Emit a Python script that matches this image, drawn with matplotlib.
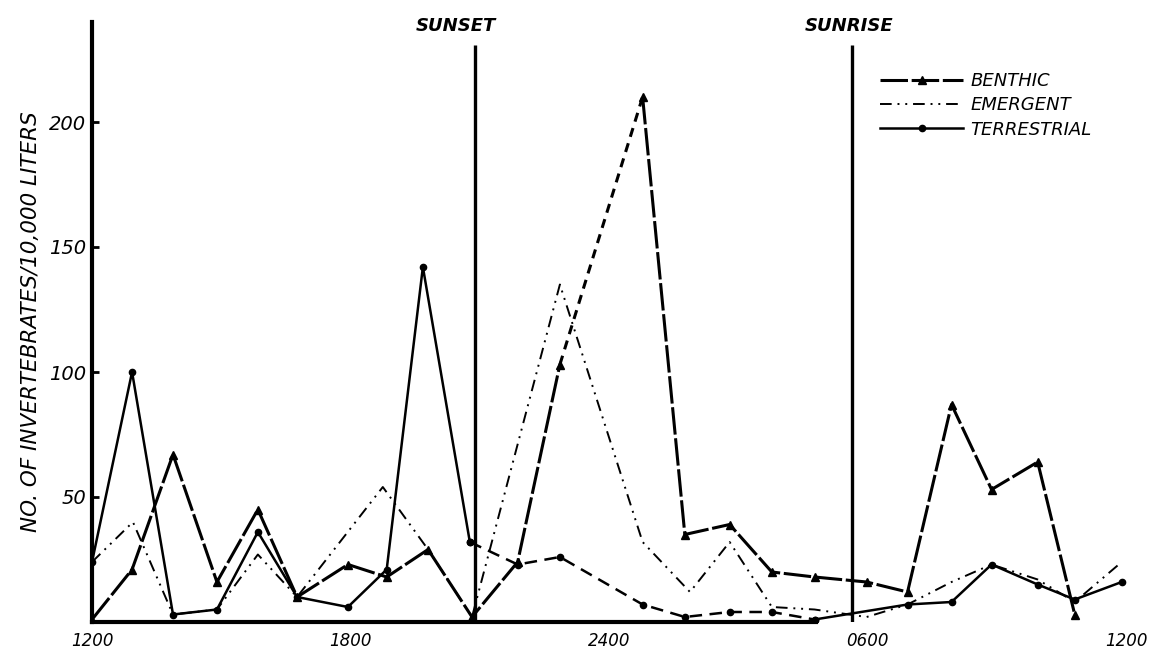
import matplotlib.pyplot as plt
from matplotlib.lines import Line2D

# hours after 1200 (noon) for each sample, and counts per 10,000 liters
benthic_hours = [0, 0.93, 1.88, 2.9, 3.85, 4.76, 5.94, 6.84, 7.8, 8.82, 9.88, 10.86,
                 12.78, 13.76, 14.8, 15.78, 16.77, 17.98, 18.93, 19.95, 20.88, 21.95, 22.81]
benthic = [1, 21, 67, 16, 45, 10, 23, 18, 29, 2, 24, 103,
           210, 35, 39, 20, 18, 16, 12, 87, 53, 64, 3]

emergent_hours = [0, 0.95, 1.88, 2.9, 3.85, 4.76, 6.75, 7.8, 8.82, 10.86, 12.78,
                  13.88, 14.8, 15.78, 16.77, 17.98, 18.93, 19.95, 20.88, 21.95, 22.81, 23.9]
emergent = [24, 40, 3, 5, 27, 10, 54, 29, 2, 135, 32,
            12, 32, 6, 5, 2, 7, 16, 23, 17, 8, 24]

terrestrial_hours = [0, 0.93, 1.88, 2.9, 3.85, 4.76, 5.94, 6.84, 7.68, 8.77, 9.88, 10.86,
                     12.78, 13.76, 14.8, 15.78, 16.77, 18.93, 19.95, 20.88, 21.95, 22.81, 23.9]
terrestrial = [24, 100, 3, 5, 36, 10, 6, 21, 142, 32, 23, 26,
               7, 2, 4, 4, 1, 7, 8, 23, 15, 9, 16]

sun_labels = ["SUNSET", "SUNRISE"]
sun_hours = [8.89, 17.63]
sun_label_hours = [8.45, 17.56]

x_ticks = [0, 6, 12, 18, 24]
x_labels = ["1200", "1800", "2400", "0600", "1200"]
y_ticks = [50, 100, 150, 200]

plt.rcParams["font.family"] = ["DejaVu Sans"]

fig = plt.figure(figsize=(11.61, 6.52), dpi=100)
ax = fig.add_axes([92 / 1161, 30 / 652, 1034 / 1161, 600 / 652])

# benthic: heavy line with triangles, dashed rise to the midnight peak
ax.plot(benthic_hours[:12], benthic[:12], color="black", lw=2.2, dashes=(9, 1.2),
        marker="^", ms=5.5)
ax.plot(benthic_hours[11:13], benthic[11:13], color="black", lw=2.2, dashes=(3, 2.2))
ax.plot(benthic_hours[12:], benthic[12:], color="black", lw=2.2, dashes=(9, 1.2),
        marker="^", ms=5.5)

ax.plot(emergent_hours, emergent, color="black", lw=1.4,
        dashes=(6, 3, 1, 3, 1, 3))

ax.plot(terrestrial_hours[:10], terrestrial[:10], color="black", lw=1.8,
        marker="o", ms=4.5)
ax.plot(terrestrial_hours[9:17], terrestrial[9:17], color="black", lw=1.8,
        dashes=(5, 3), marker="o", ms=4.5)
ax.plot(terrestrial_hours[16:], terrestrial[16:], color="black", lw=1.8,
        marker="o", ms=4.5)

ax.vlines(sun_hours, 0, 231, color="black", lw=2.4)
for lab, h in zip(sun_labels, sun_label_hours):
    ax.text(h, 238.5, lab, ha="center", va="center", fontsize=13,
            fontweight="bold", fontstyle="italic")

ax.set_xlim(0, 24)
ax.set_ylim(0, 240)
ax.set_xticks(x_ticks)
ax.set_xticklabels(x_labels, fontsize=12, fontstyle="italic")
ax.set_xticks([12], minor=True)
ax.set_yticks(y_ticks)
ax.set_yticklabels([str(v) for v in y_ticks], fontsize=14, fontstyle="italic")
ax.tick_params(axis="y", direction="in", length=5, width=2, pad=4)
ax.tick_params(axis="x", which="major", length=0, pad=7)
ax.tick_params(axis="x", which="minor", direction="in", length=6, width=2.5)

for side in ["top", "right"]:
    ax.spines[side].set_visible(False)
ax.spines["left"].set_linewidth(3)
ax.spines["bottom"].set_linewidth(3)
ax.spines["bottom"].set_bounds(0, 16.8)

ax.set_ylabel("NO. OF INVERTEBRATES/10,000 LITERS", fontsize=15.5,
              fontstyle="italic", labelpad=6)

handles = [
    Line2D([], [], color="black", lw=2.2, dashes=(9, 1.2), marker="^", ms=5.5),
    Line2D([], [], color="black", lw=1.4, dashes=(6, 3, 1, 3, 1, 3)),
    Line2D([], [], color="black", lw=1.8, marker="o", ms=4.5),
]
ax.legend(handles, ["BENTHIC", "EMERGENT", "TERRESTRIAL"], loc="upper left",
          bbox_to_anchor=(880 / 1161, 1 - 72 / 652), bbox_transform=fig.transFigure,
          frameon=False, borderpad=0, borderaxespad=0, handlelength=4.6,
          handletextpad=0.4, labelspacing=0.35,
          prop={"size": 13, "style": "italic"})

fig.savefig("out.png", dpi=100)
